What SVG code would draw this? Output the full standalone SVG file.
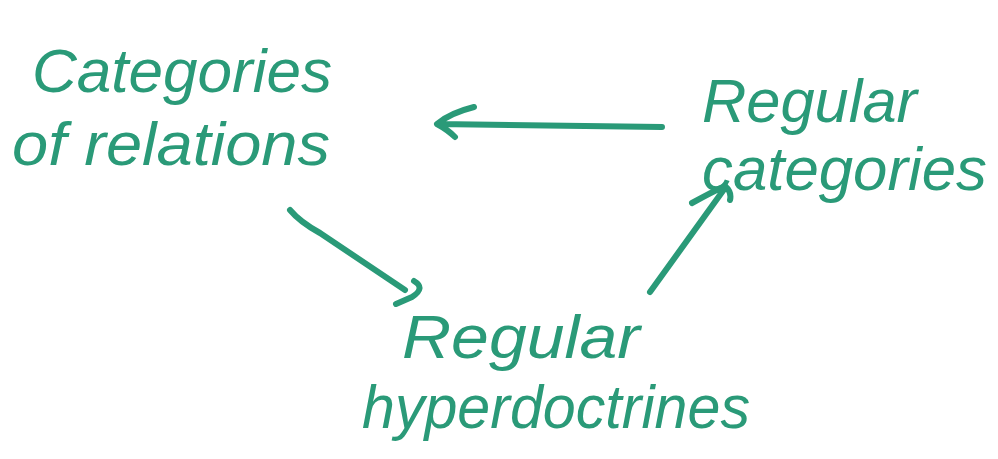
<svg xmlns="http://www.w3.org/2000/svg" width="998" height="459" viewBox="0 0 998 459">
<style>
.t{font-family:"Liberation Sans",Arial,sans-serif;font-style:italic;font-size:62px;fill:#2a9a78}
.c{fill:none;stroke:#2a9a78;stroke-width:6;stroke-linecap:round;stroke-linejoin:round}
</style>
<rect width="998" height="459" fill="#ffffff"/>
<g id="cat-rel">
<text class="t" x="32" y="92" textLength="300" lengthAdjust="spacingAndGlyphs">Categories</text>
<text class="t" x="12" y="165" textLength="318" lengthAdjust="spacingAndGlyphs">of relations</text>
</g>
<g id="reg-cat">
<text class="t" x="702" y="122" textLength="215" lengthAdjust="spacingAndGlyphs">Regular</text>
<text class="t" x="702" y="190" textLength="285" lengthAdjust="spacingAndGlyphs">categories</text>
</g>
<g id="reg-hyp">
<text class="t" x="402" y="358" textLength="238" lengthAdjust="spacingAndGlyphs">Regular</text>
<text class="t" x="362" y="428" textLength="388" lengthAdjust="spacingAndGlyphs">hyperdoctrines</text>
</g>
<g id="connectors">
<path class="c" d="M662,127 L438,124 M474,107 Q450,113 437,124 Q448,130 455,137"/>
<path class="c" d="M290,210 Q300,222 320,233 L405,290 M414,281 Q426,288 412,297 L396,304"/>
<path class="c" d="M650,292 L725,188 M692,203 Q712,192 725,186 Q732,192 730,200"/>
</g>
</svg>
